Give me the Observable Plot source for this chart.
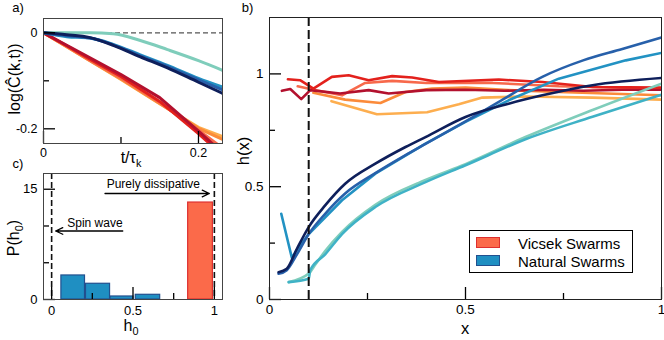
<!DOCTYPE html>
<html>
<head>
<meta charset="utf-8">
<script src="https://cdn.jsdelivr.net/npm/d3@7"></script>
<script src="https://cdn.jsdelivr.net/npm/@observablehq/plot@0.6"></script>
<style>
html,body{margin:0;padding:0;background:#fff;}
#root{position:relative;width:664px;height:340px;overflow:hidden;font-family:"Liberation Sans",Arial,sans-serif;color:#000;}
.pane{position:absolute;}
.pane svg{background:none !important;overflow:visible !important;display:block;}
.lab{position:absolute;line-height:1;white-space:nowrap;}
.lab sub{font-size:0.68em;vertical-align:-0.35em;line-height:0;}
</style>
</head>
<body>
<div id="root"></div>
<script>
// ================= DATA =================
// Panel a) log C^(k,t) vs t/tau_k
const aTimeV = [0, 0.03, 0.06, 0.1, 0.15, 0.2, 0.231];
const aVicsekDarkRed = [0, -0.026, -0.052, -0.087, -0.135, -0.205, -0.25];
const aVicsekRed     = [0, -0.027, -0.055, -0.091, -0.143, -0.21, -0.255];
const aVicsekSalmon  = [0, -0.028, -0.057, -0.094, -0.145, -0.203, -0.24];
const aVicsekOrange  = [0, -0.029, -0.058, -0.096, -0.147, -0.199, -0.222];
const aVicsekLight   = [0, -0.029, -0.058, -0.097, -0.148, -0.197, -0.216];
const aTimeN = [0, 0.03, 0.06, 0.09, 0.125, 0.16, 0.2, 0.231];
const aNaturalNavy  = [0, -0.004, -0.01, -0.026, -0.05, -0.073, -0.103, -0.126];
const aNaturalMed   = [0, -0.006, -0.011, -0.025, -0.048, -0.07, -0.098, -0.119];
const aNaturalBlue  = [0, -0.008, -0.011, -0.024, -0.046, -0.068, -0.095, -0.113];
const aNaturalTeal  = [0, 0, 0, -0.002, -0.016, -0.035, -0.058, -0.078];

// Panel b) h(x)
const bDarkRedX = [0.0315, 0.053, 0.081, 0.104, 0.18, 0.253, 0.304, 0.4, 0.5, 0.6, 0.7, 0.8, 0.9, 1];
const bDarkRedY = [0.925, 0.933, 0.888, 0.928, 0.913, 0.928, 0.913, 0.928, 0.93, 0.925, 0.93, 0.925, 0.93, 0.93];
const bRedX = [0.047, 0.078, 0.112, 0.159, 0.202, 0.253, 0.313, 0.364, 0.432, 0.585, 0.696, 0.824, 1];
const bRedY = [0.976, 0.972, 0.935, 0.987, 0.994, 0.972, 0.99, 0.984, 0.964, 0.975, 0.964, 0.942, 0.939];
const bSalmonX = [0.072, 0.112, 0.185, 0.244, 0.313, 0.4, 0.57, 0.738, 1];
const bSalmonY = [0.945, 0.93, 0.905, 0.96, 0.969, 0.96, 0.96, 0.945, 0.935];
const bOrangeX = [0.112, 0.193, 0.283, 0.347, 0.415, 0.5, 0.61, 0.738, 1];
const bOrangeY = [0.916, 0.886, 0.871, 0.92, 0.935, 0.939, 0.928, 0.92, 0.905];
const bLightX = [0.158, 0.274, 0.402, 0.483, 0.543, 0.653, 0.824, 1];
const bLightY = [0.879, 0.821, 0.83, 0.865, 0.895, 0.9, 0.895, 0.886];

const bNavyX = [0.023, 0.044, 0.07, 0.1, 0.142, 0.193, 0.27, 0.347, 0.398, 0.5, 0.61, 0.696, 0.824, 1];
const bNavyY = [0.121, 0.136, 0.225, 0.321, 0.417, 0.513, 0.602, 0.676, 0.72, 0.809, 0.868, 0.905, 0.95, 0.982];
const bMedX = [0.023, 0.044, 0.07, 0.1, 0.142, 0.193, 0.27, 0.347, 0.398, 0.5, 0.585, 0.696, 0.8, 0.9, 1];
const bMedY = [0.114, 0.13, 0.2, 0.29, 0.38, 0.47, 0.56, 0.64, 0.69, 0.79, 0.876, 0.987, 1.06, 1.11, 1.161];
const bBlueX = [0.03, 0.057, 0.07, 0.1, 0.185, 0.27, 0.398, 0.5, 0.61, 0.738, 0.909, 1];
const bBlueY = [0.38, 0.185, 0.22, 0.29, 0.44, 0.558, 0.691, 0.787, 0.883, 0.979, 1.06, 1.093];
const bTealX = [0.049, 0.1, 0.104, 0.142, 0.185, 0.27, 0.398, 0.5, 0.653, 0.824, 1];
const bTealY = [0.077, 0.092, 0.13, 0.2, 0.29, 0.41, 0.52, 0.595, 0.71, 0.81, 0.908];
const bMintX = [0.049, 0.1, 0.117, 0.142, 0.185, 0.27, 0.398, 0.5, 0.653, 0.824, 1];
const bMintY = [0.077, 0.115, 0.155, 0.215, 0.3, 0.42, 0.53, 0.6, 0.72, 0.84, 0.957];
const bCutoff = [0.1];

// Panel c) histogram P(h0)
const cNaturalX1 = [0.06, 0.211, 0.362, 0.517];
const cNaturalX2 = [0.205, 0.359, 0.503, 0.667];
const cNaturalP  = [3.27, 2.14, 0.41, 0.64];
const cVicsekX1 = [0.839];
const cVicsekX2 = [0.991];
const cVicsekP  = [13.19];
const cLimits = [0, 1];
const cNotes = ["Purely dissipative", "Spin wave"];

const legendLabels = ["Vicsek Swarms", "Natural Swarms"];

// ================= STYLE =================
const FONT = '"Liberation Sans", Arial, sans-serif';
const COL = {
  darkred: "#b3112e", red: "#e3211c", salmon: "#f7694b", orange: "#fb8b3a", light: "#fdae4f",
  navy: "#0e1f5b", med: "#2760aa", blue: "#2292c3", teal: "#3fb2c6", mint: "#7fcdbb",
  vFill: "#fb6a4a", vStroke: "#de2f2f", nFill: "#1f8fc2", nStroke: "#22508f"
};

const pts = (xs, ys) => xs.map((x, i) => ({x, y: ys[i]}));

// inward ticks: short rules whose pixel length is converted through each panel's scale
function axisMarks(xd, yd, fw, fh, xMaj, xMin, yMaj, yMin, fs, xPad, yPad) {
  const kx = (xd[1] - xd[0]) / fw, ky = (yd[1] - yd[0]) / fh;
  const maj = 12, mn = 6;
  const sty = {stroke: "#000", strokeWidth: 1.3};
  return [
    Plot.ruleX(xMaj, {y1: yd[0], y2: yd[0] + maj * ky, ...sty}),
    Plot.ruleX(xMin, {y1: yd[0], y2: yd[0] + mn * ky, ...sty}),
    Plot.ruleY(yMaj, {x1: xd[0], x2: xd[0] + maj * kx, ...sty}),
    Plot.ruleY(yMin, {x1: xd[0], x2: xd[0] + mn * kx, ...sty}),
    Plot.axisX({ticks: xMaj, tickSize: 0, tickPadding: xPad, tickFormat: d => String(d), fontSize: fs, label: null, fill: "#000"}),
    Plot.axisY({ticks: yMaj, tickSize: 0, tickPadding: yPad, tickFormat: d => String(d), fontSize: fs, label: null, fill: "#000"})
  ];
}

const root = document.getElementById("root");
function place(svg, left, top) {
  const d = document.createElement("div");
  d.className = "pane";
  d.style.left = left + "px";
  d.style.top = top + "px";
  d.appendChild(svg);
  root.appendChild(d);
}
function label(html, cx, cy, size, rotate) {
  const d = document.createElement("div");
  d.className = "lab";
  d.innerHTML = html;
  d.style.left = cx + "px";
  d.style.top = cy + "px";
  d.style.fontSize = size + "px";
  d.style.transform = "translate(-50%,-50%)" + (rotate ? " rotate(-90deg)" : "");
  root.appendChild(d);
}

// ================= PANEL A =================
const seriesA = [
  {t: aTimeV, v: aVicsekLight, c: COL.light, curve: "linear"},
  {t: aTimeV, v: aVicsekOrange, c: COL.orange, curve: "linear"},
  {t: aTimeV, v: aVicsekSalmon, c: COL.salmon, curve: "linear"},
  {t: aTimeV, v: aVicsekRed, c: COL.red, curve: "linear"},
  {t: aTimeV, v: aVicsekDarkRed, c: COL.darkred, curve: "linear"},
  {t: aTimeN, v: aNaturalTeal, c: COL.mint, curve: "monotone-x"},
  {t: aTimeN, v: aNaturalBlue, c: COL.blue, curve: "monotone-x"},
  {t: aTimeN, v: aNaturalMed, c: COL.med, curve: "monotone-x"},
  {t: aTimeN, v: aNaturalNavy, c: COL.navy, curve: "monotone-x"}
];
const aX = [0, 0.231], aY = [-0.2306, 0.0298];
const plotA = Plot.plot({
  width: 230, height: 170,
  marginLeft: 43, marginRight: 8, marginTop: 18, marginBottom: 27,
  x: {domain: aX},
  y: {domain: aY},
  style: {fontFamily: FONT, fontSize: "12px", background: "none", overflow: "visible"},
  marks: [
    Plot.ruleY([0], {stroke: "#555", strokeWidth: 1.3, strokeDasharray: "5,3"}),
    ...seriesA.map(s => Plot.line(pts(s.t, s.v), {x: "x", y: "y", stroke: s.c, strokeWidth: 3, curve: s.curve, clip: true})),
    ...axisMarks(aX, aY, 179, 125, [0, 0.2], [0.1], [-0.2, 0], [-0.1], 12.5, 5, 6),
    Plot.frame({stroke: "#444"})
  ]
});
place(plotA, 0, 0);

// ================= PANEL B =================
const seriesB = [
  {x: bLightX, y: bLightY, c: COL.light, curve: "linear"},
  {x: bOrangeX, y: bOrangeY, c: COL.orange, curve: "linear"},
  {x: bSalmonX, y: bSalmonY, c: COL.salmon, curve: "linear"},
  {x: bDarkRedX, y: bDarkRedY, c: COL.darkred, curve: "linear"},
  {x: bRedX, y: bRedY, c: COL.red, curve: "linear"},
  {x: bMintX, y: bMintY, c: COL.mint, curve: "monotone-x"},
  {x: bTealX, y: bTealY, c: COL.teal, curve: "monotone-x"},
  {x: bBlueX, y: bBlueY, c: COL.blue, curve: "linear"},
  {x: bMedX, y: bMedY, c: COL.med, curve: "monotone-x"},
  {x: bNavyX, y: bNavyY, c: COL.navy, curve: "monotone-x"}
];
const bX = [0, 1], bY = [0, 1.25];
const plotB = Plot.plot({
  width: 434, height: 340,
  marginLeft: 39, marginRight: 3, marginTop: 17, marginBottom: 41,
  x: {domain: bX},
  y: {domain: bY},
  style: {fontFamily: FONT, fontSize: "13px", background: "none", overflow: "visible"},
  marks: [
    ...seriesB.map(s => Plot.line(pts(s.x, s.y), {x: "x", y: "y", stroke: s.c, strokeWidth: 2.6, curve: s.curve, clip: true})),
    Plot.ruleX(bCutoff, {stroke: "#111", strokeWidth: 2, strokeDasharray: "9,4"}),
    ...axisMarks(bX, bY, 392, 282, [0, 0.5, 1], [0.25, 0.75], [0, 0.5, 1], [0.25, 0.75], 13.5, 5, 6),
    Plot.frame({stroke: "#222"})
  ]
});
place(plotB, 230, 0);

// ================= PANEL C =================
const barsN = cNaturalP.map((p, i) => ({x1: cNaturalX1[i], x2: cNaturalX2[i], p}));
const barsV = cVicsekP.map((p, i) => ({x1: cVicsekX1[i], x2: cVicsekX2[i], p}));
const cX = [-0.05, 1.05], cY = [0, 17.14];
const plotC = Plot.plot({
  width: 230, height: 175,
  marginLeft: 43, marginRight: 8, marginTop: 8, marginBottom: 41,
  x: {domain: cX},
  y: {domain: cY},
  style: {fontFamily: FONT, fontSize: "12px", background: "none", overflow: "visible"},
  marks: [
    Plot.rect(barsN, {x1: "x1", x2: "x2", y1: 0, y2: "p", fill: COL.nFill, stroke: COL.nStroke, strokeWidth: 1.2}),
    Plot.rect(barsV, {x1: "x1", x2: "x2", y1: 0, y2: "p", fill: COL.vFill, stroke: COL.vStroke, strokeWidth: 1.2}),
    Plot.ruleX(cLimits, {stroke: "#111", strokeWidth: 1.6, strokeDasharray: "6,3"}),
    Plot.arrow([{x1: 0.328, x2: 0.969, y: 14.42}], {x1: "x1", x2: "x2", y1: "y", y2: "y", stroke: "#000", strokeWidth: 1.3, headLength: 9, headAngle: 50}),
    Plot.arrow([{x1: 0.437, x2: 0.025, y: 9.32}], {x1: "x1", x2: "x2", y1: "y", y2: "y", stroke: "#000", strokeWidth: 1.3, headLength: 9, headAngle: 50}),
    Plot.text([{t: cNotes[0], x: 0.625, y: 15.7}], {x: "x", y: "y", text: "t", fontSize: 12, fill: "#000"}),
    Plot.text([{t: cNotes[1], x: 0.266, y: 10.38}], {x: "x", y: "y", text: "t", fontSize: 12, fill: "#000"}),
    ...axisMarks(cX, cY, 179, 126, [0, 0.5, 1], [0.25, 0.75], [0, 15], [5, 10], 13, 6, 6),
    Plot.frame({stroke: "#444"})
  ]
});
place(plotC, 0, 165);

// ================= TITLES & LABELS =================
label("a)", 18, 7, 13, false);
label("b)", 247.5, 7, 13, false);
label("c)", 18, 163, 13, false);
label("log(Ĉ(k,t))", 15, 79, 16, true);
label("t/τ<sub>k</sub>", 131, 157.5, 16, false);
label("P(h<sub>0</sub>)", 13.5, 238, 16, true);
label("h<sub>0</sub>", 131, 325.5, 16, false);
label("h(x)", 243, 151, 16.5, true);
label("x", 465, 327.5, 16.5, false);

// ================= LEGEND =================
const lg = document.createElement("div");
lg.style.cssText = "position:absolute;left:469px;top:230px;width:164px;height:43px;box-sizing:border-box;border:1px solid #000;background:#fff;";
root.appendChild(lg);
const legendItems = [
  {t: legendLabels[0], fill: COL.vFill, stroke: COL.vStroke, top: 6},
  {t: legendLabels[1], fill: COL.nFill, stroke: COL.nStroke, top: 24}
];
legendItems.forEach(it => {
  const sw = document.createElement("div");
  sw.style.cssText = `position:absolute;left:6px;top:${it.top}px;width:24px;height:11px;box-sizing:border-box;background:${it.fill};border:1px solid ${it.stroke};`;
  lg.appendChild(sw);
  const tx = document.createElement("div");
  tx.textContent = it.t;
  tx.style.cssText = `position:absolute;left:48px;top:${it.top - 1.5}px;font-size:15px;line-height:1;white-space:nowrap;`;
  lg.appendChild(tx);
});
</script>
</body>
</html>
